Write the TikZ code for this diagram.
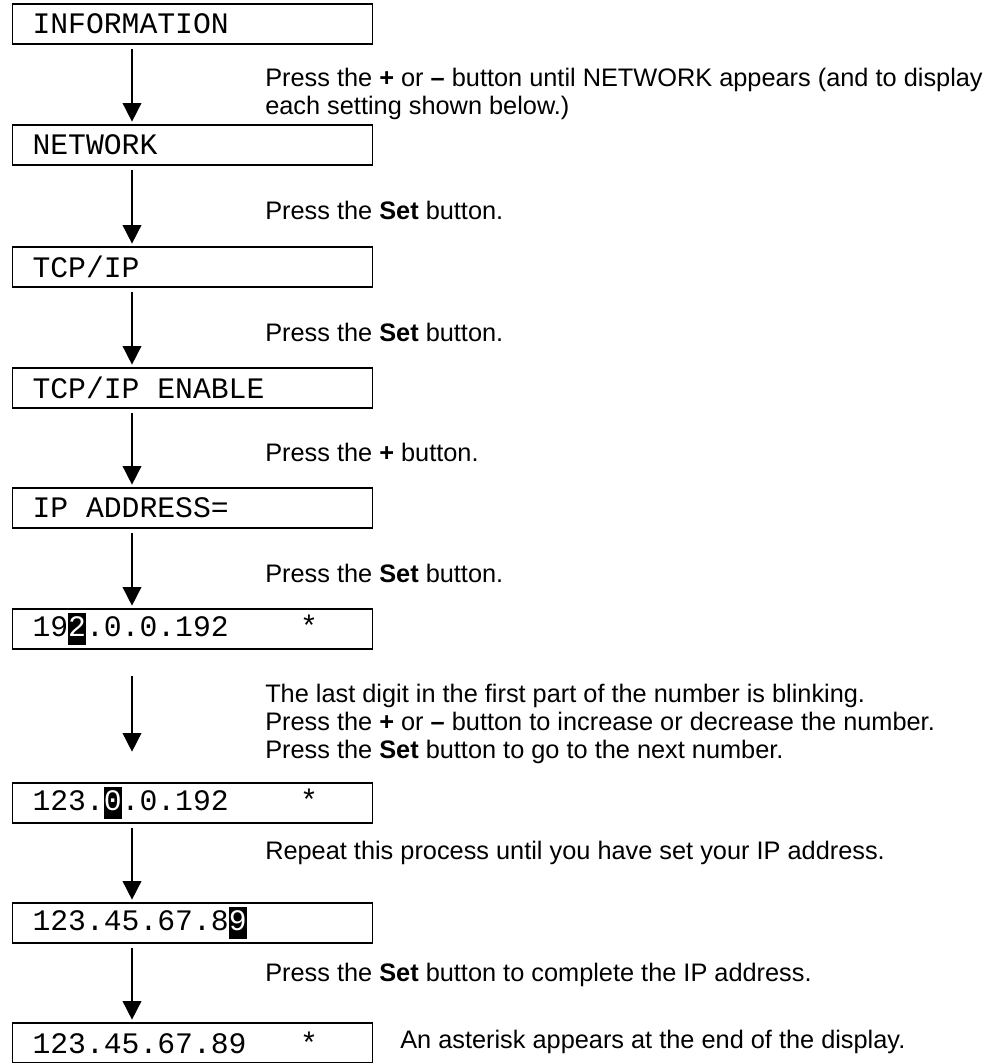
\documentclass[tikz,border=0pt]{standalone}
\usepackage{fontspec}
\setmainfont{Liberation Sans}
\setmonofont{Liberation Mono}
\usetikzlibrary{arrows.meta}

\newcommand{\blink}[1]{{\setlength{\fboxsep}{0pt}\colorbox{black}{\rule[-0.28em]{0pt}{1.06em}\textcolor{white}{#1}}}}
\newcommand{\blank}{\hspace*{0.6em}}

\begin{document}
\begin{tikzpicture}[x=0.75pt, y=-0.75pt,
	disp/.style={draw, line width=1pt, minimum height=30pt, inner xsep=15pt, inner ysep=0pt,
		text width=240pt, font=\ttfamily\fontsize{22.3}{22.3}\selectfont},
	note/.style={anchor=west, align=left, inner sep=0pt, font=\fontsize{19}{21}\selectfont},
	flow/.style={line width=1.2pt, -{Triangle[length=14pt,width=14pt]}, shorten <=3pt, shorten >=2pt}]
	\useasboundingbox (0,0) rectangle (990,1063);
	\coordinate (stem) at (132,0);
	% display lines
	\node[disp] (info) at (192.5,24) {INFORMATION};
	\node[disp] (net) at (192.5,145) {NETWORK};
	\node[disp] (tcp) at (192.5,267) {TCP/IP};
	\node[disp] (enable) at (192.5,388) {TCP/IP\blank ENABLE};
	\node[disp] (addr) at (192.5,508) {IP\blank ADDRESS=};
	\node[disp] (ipa) at (192.5,629) {19\blink{2}.0.0.192\blank\blank\blank\blank*};
	\node[disp] (ipb) at (192.5,803) {123.\blink{0}.0.192\blank\blank\blank\blank*};
	\node[disp] (ipc) at (192.5,923) {123.45.67.8\blink{9}};
	\node[disp] (ipd) at (192.5,1043) {123.45.67.89\blank\blank\blank*};
	% steps
	\draw[flow] (info.south -| stem) -- (net.north -| stem);
	\draw[flow] (net.south -| stem) -- (tcp.north -| stem);
	\draw[flow] (tcp.south -| stem) -- (enable.north -| stem);
	\draw[flow] (enable.south -| stem) -- (addr.north -| stem);
	\draw[flow] (addr.south -| stem) -- (ipa.north -| stem);
	\draw[flow, shorten <=20pt, shorten >=23pt] (ipa.south -| stem) -- (ipb.north -| stem);
	\draw[flow] (ipb.south -| stem) -- (ipc.north -| stem);
	\draw[flow] (ipc.south -| stem) -- (ipd.north -| stem);
	% what to press
	\node[note] (t1) at (265,94) {Press the \textbf{+} or \textbf{–} button until NETWORK appears (and to display\\each setting shown below.)};
	\node[note] (t2) at (265,210) {Press the \textbf{Set} button.};
	\node[note] (t3) at (265,332) {Press the \textbf{Set} button.};
	\node[note] (t4) at (265,452) {Press the \textbf{+} button.};
	\node[note] (t5) at (265,573) {Press the \textbf{Set} button.};
	\node[note] (t6) at (265,724) {The last digit in the first part of the number is blinking.\\Press the \textbf{+} or \textbf{–} button to increase or decrease the number.\\Press the \textbf{Set} button to go to the next number.};
	\node[note] (t7) at (265,853) {Repeat this process until you have set your IP address.};
	\node[note] (t8) at (265,975) {Press the \textbf{Set} button to complete the IP address.};
	\node[note] (t9) at (400,1042) {An asterisk appears at the end of the display.};
\end{tikzpicture}
\end{document}
